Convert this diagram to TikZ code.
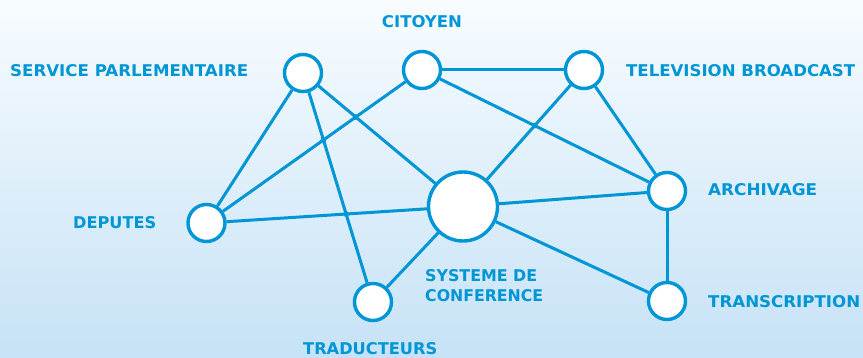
\documentclass[tikz,border=0pt]{standalone}
\usepackage{fontspec}
\setmainfont{DejaVu Sans}
\usetikzlibrary{intersections}
\definecolor{netblue}{RGB}{0,150,214}
\definecolor{bgtop}{RGB}{248,252,255}
\definecolor{bgbot}{RGB}{198,226,246}
\newcommand{\lbl}[2]{\resizebox{#1}{12pt}{\bfseries #2}}
\tikzset{
  hub/.style={circle, draw=netblue, line width=3.4pt, fill=white, minimum size=37pt, inner sep=0pt},
  bighub/.style={hub, minimum size=69pt},
  link/.style={draw=netblue, line width=3pt},
  lab/.style={text=netblue, inner sep=0pt},
  crossdot/.style={fill=netblue}
}
\begin{document}
\begin{tikzpicture}[x=1pt,y=-1pt]
\useasboundingbox (0,0) rectangle (863,358);
\shade[top color=bgtop, bottom color=bgbot] (0,0) rectangle (863,358);

\node[hub] (sp) at (303,73) {};
\node[hub] (cit) at (422,70) {};
\node[hub] (tv) at (584,70) {};
\node[hub] (arc) at (667,191) {};
\node[hub] (tra) at (667,301) {};
\node[hub] (tdu) at (373,302) {};
\node[hub] (dep) at (206.5,223) {};
\node[bighub] (sys) at (463,206.5) {};

\path[link, name path=spdep] (sp) -- (dep);
\path[link, name path=sptdu] (sp) -- (tdu);
\path[link, name path=spsys] (sp) -- (sys);
\path[link, name path=citdep] (cit) -- (dep);
\path[link] (cit) -- (tv);
\path[link, name path=citarc] (cit) -- (arc);
\path[link, name path=tvsys] (tv) -- (sys);
\path[link] (tv) -- (arc);
\path[link, name path=depsys] (dep) -- (sys);
\path[link] (sys) -- (arc);
\path[link] (sys) -- (tra);
\path[link] (sys) -- (tdu);
\path[link] (arc) -- (tra);

\fill[crossdot, name intersections={of=spsys and citdep}] (intersection-1) circle (2.8pt);
\fill[crossdot, name intersections={of=sptdu and citdep}] (intersection-1) circle (2.8pt);
\fill[crossdot, name intersections={of=citarc and tvsys}] (intersection-1) circle (2.8pt);
\fill[crossdot, name intersections={of=sptdu and depsys}] (intersection-1) circle (2.8pt);

\node[lab, anchor=west] (lsp) at (10,71) {\lbl{238pt}{SERVICE PARLEMENTAIRE}};
\node[lab, anchor=west] (ltv) at (626,71) {\lbl{229pt}{TELEVISION BROADCAST}};
\node[lab] (lcit) at (422,22) {\lbl{80pt}{CITOYEN}};
\node[lab, anchor=west] (larc) at (708,190) {\lbl{109pt}{ARCHIVAGE}};
\node[lab, anchor=west] (ldep) at (73,223) {\lbl{83pt}{DEPUTES}};
\node[lab, anchor=west] (lsys1) at (425,276) {\lbl{112pt}{SYSTEME DE}};
\node[lab, anchor=west] (lsys2) at (425,296) {\lbl{118pt}{CONFERENCE}};
\node[lab, anchor=west] (ltra) at (708,302) {\lbl{152pt}{TRANSCRIPTION}};
\node[lab, anchor=west] (ltdu) at (303,349) {\lbl{134pt}{TRADUCTEURS}};
\end{tikzpicture}
\end{document}
